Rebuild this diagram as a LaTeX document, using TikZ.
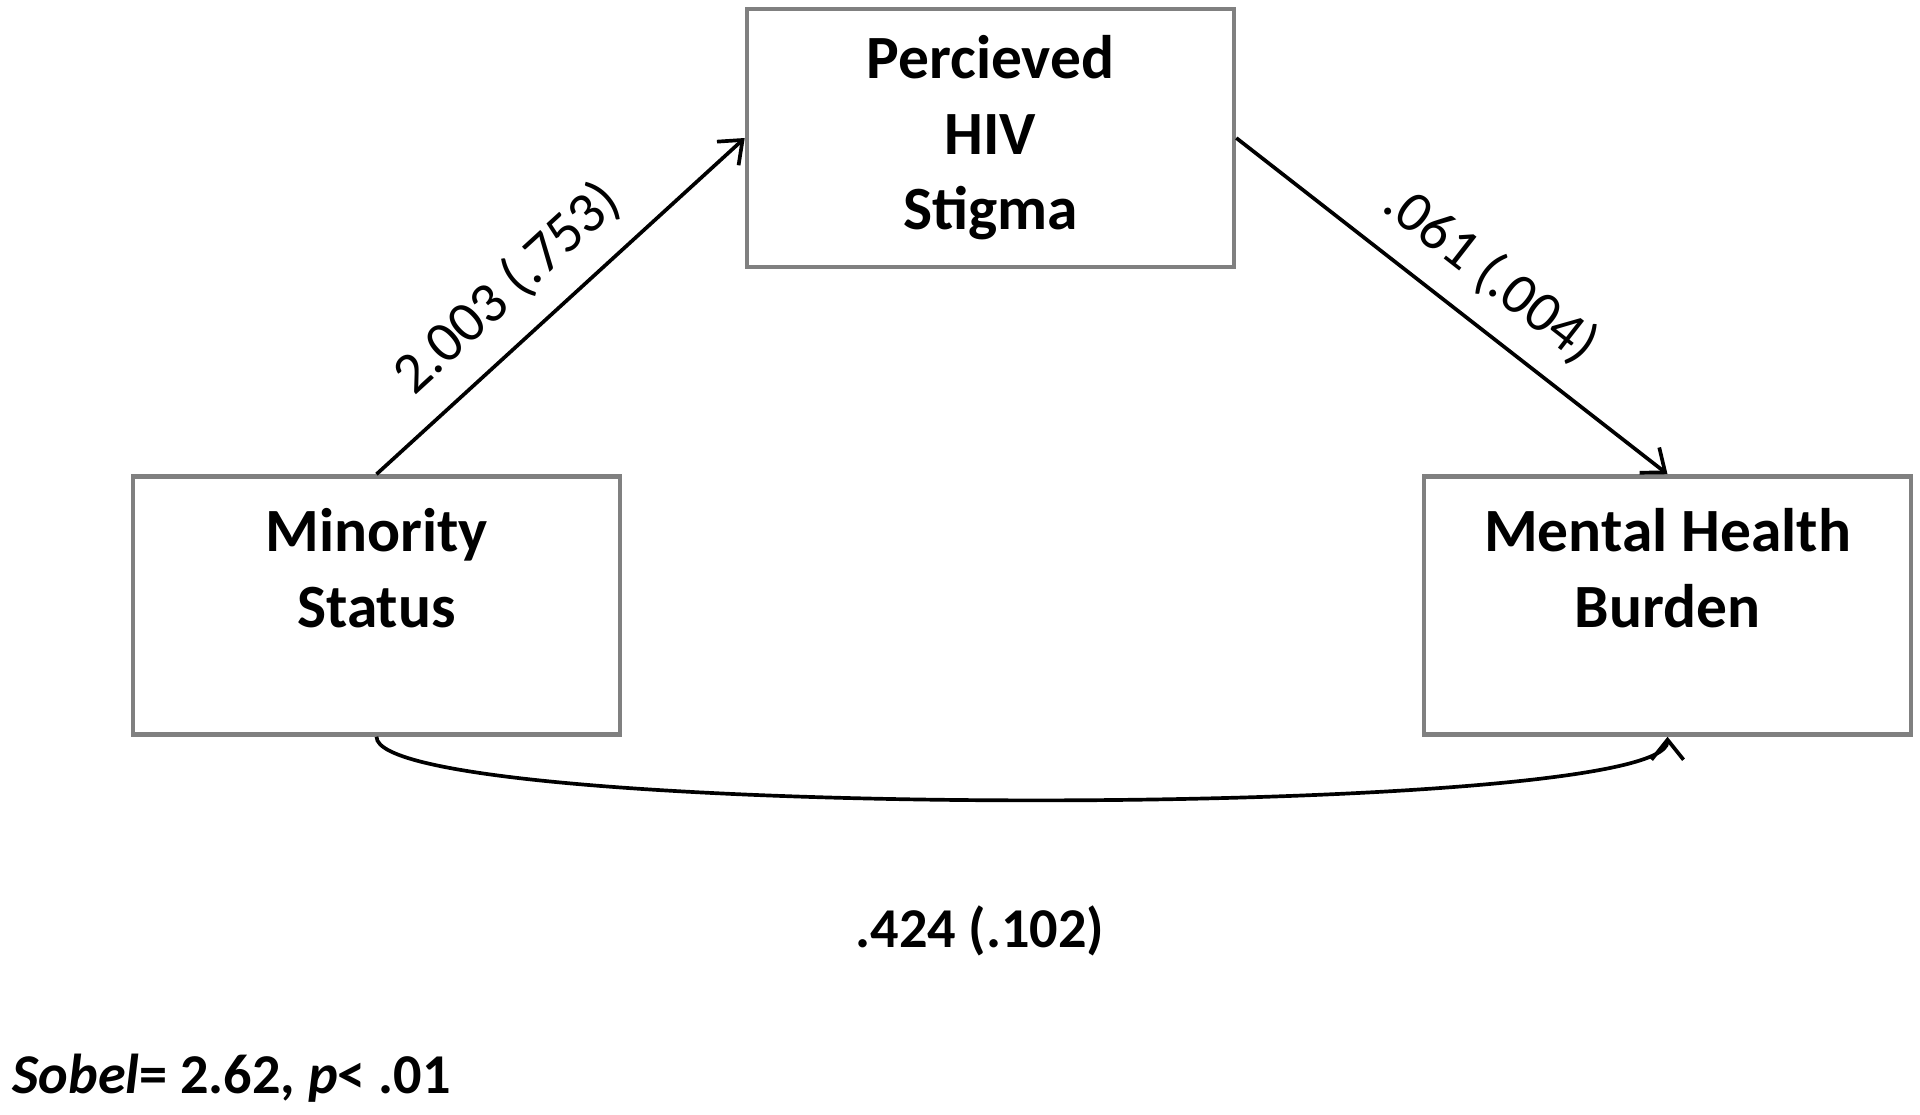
\documentclass[tikz,border=0pt]{standalone}
\usepackage{fontspec}
\setmainfont{Carlito}
\usetikzlibrary{arrows.meta,positioning,calc}
\definecolor{bx}{RGB}{128,128,128}
\tikzset{
    vbox/.style={rectangle,draw=bx,line width=1.3pt,minimum width=4.87cm,minimum height=2.58cm,align=center,inner sep=0pt,font=\fontsize{17.5}{21.5}\selectfont\bfseries},
    parr/.style={-{Straight Barb[length=2mm,width=3.2mm]},line width=1.05pt,black},
    coef/.style={font=\fontsize{16.5}{20}\selectfont,sloped,above=3pt},
}
\begin{document}
\begin{tikzpicture}
\useasboundingbox (0,0) rectangle (19.2,11.14);
\node[vbox] (stigma) at (9.905,9.76) {Percieved\\HIV\\Stigma};
\node[vbox] (minority) at (3.765,5.085) {Minority\\Status\\\mbox{}};
\node[vbox] (mental) at (16.675,5.085) {Mental Health\\Burden\\\mbox{}};
\draw[parr] (minority.north) -- node[coef,pos=0.445] {2.003 (.753)} (stigma.west);
\draw[parr] (stigma.east) -- node[coef,pos=0.52] {.061 (.004)} (mental.north);
\draw[parr] (minority.south) .. controls +(0,-0.84) and +(0,-0.84) .. (mental.south);
\node[font=\fontsize{16}{20}\selectfont\bfseries] (direct) at (9.8,1.83) {.424 (.102)};
\node[anchor=west,inner sep=0pt,font=\fontsize{16}{20}\selectfont\bfseries] (sobel) at (0.12,0.36) {\textit{Sobel}= 2.62, \textit{p}< .01};
\end{tikzpicture}
\end{document}
